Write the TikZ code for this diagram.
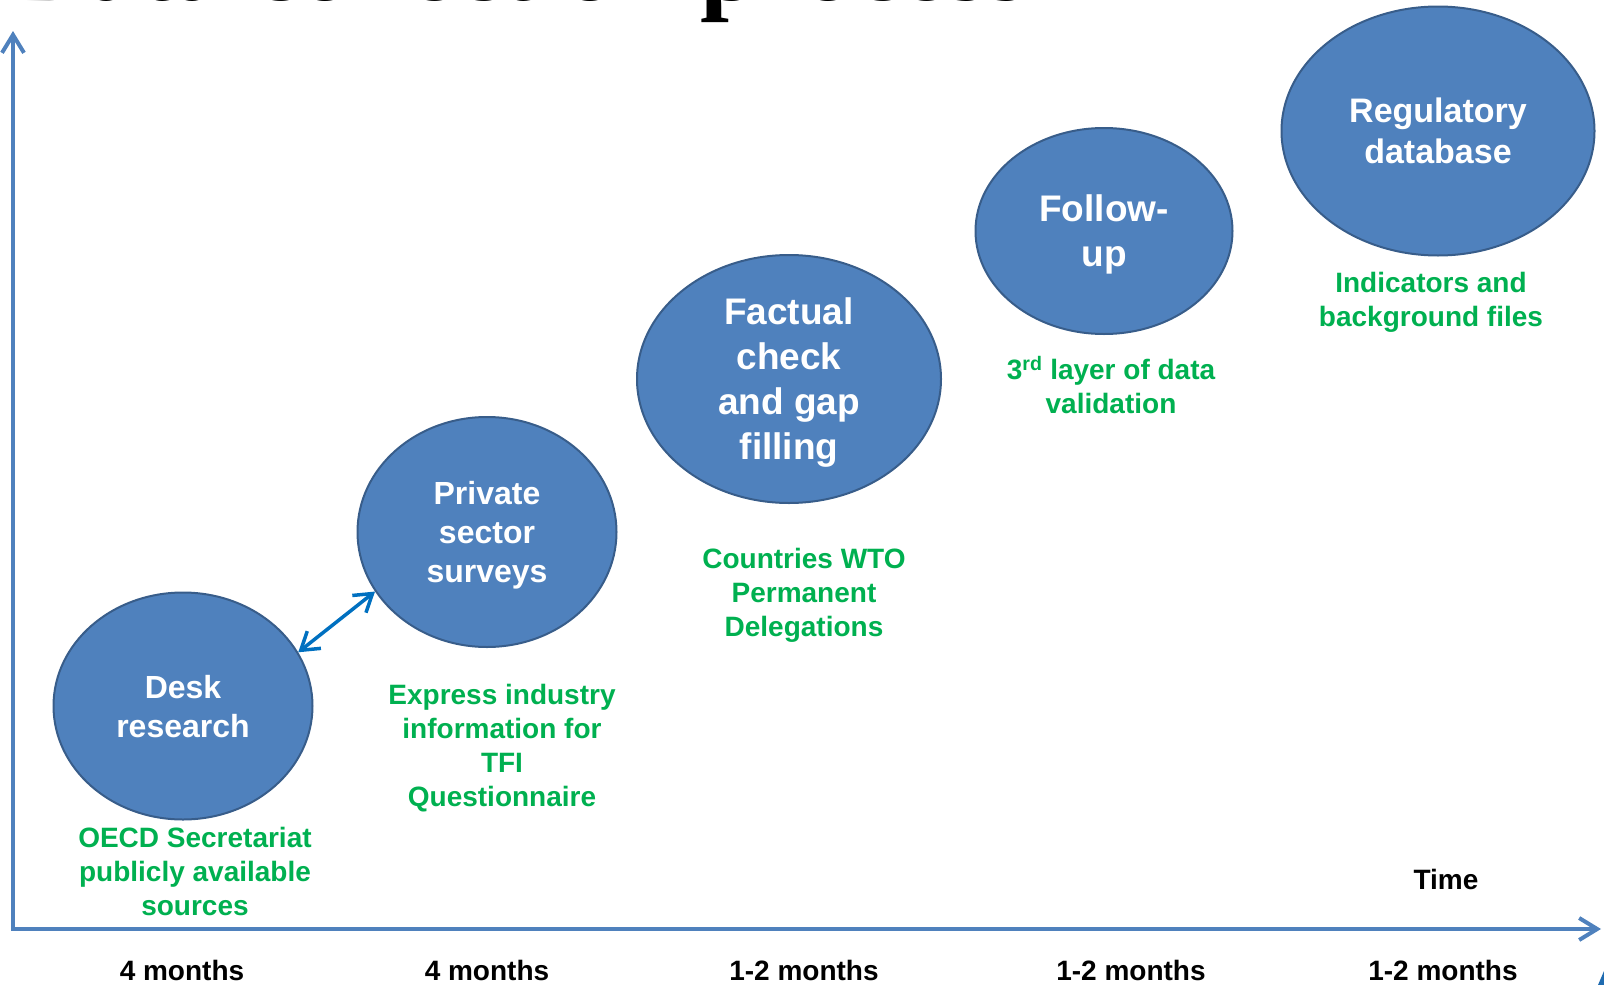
\documentclass[tikz,border=0pt]{standalone}
\usepackage{fontspec}
\setmainfont{Liberation Sans}
\newfontfamily\titlefont{Liberation Serif}
\usepackage{tikz}
\usetikzlibrary{arrows.meta,shapes.geometric,positioning}
\definecolor{stageblue}{HTML}{4F81BD}
\definecolor{stageedge}{HTML}{385D8A}
\definecolor{axisblue}{HTML}{4F81BD}
\definecolor{linkblue}{HTML}{0070C0}
\definecolor{notegreen}{HTML}{00B050}
\definecolor{cornerblue}{HTML}{1F6BB0}
\tikzset{
  stage/.style={
    ellipse,
    draw=stageedge,
    line width=2pt,
    fill=stageblue,
    text=white,
    align=center,
    inner sep=0pt,
    font=\bfseries\fontsize{32}{39}\selectfont
  },
  bigstage/.style={stage, font=\bfseries\fontsize{37}{45}\selectfont},
  note/.style={
    align=center,
    inner sep=0pt,
    text=notegreen,
    font=\bfseries\fontsize{28}{34}\selectfont
  },
  period/.style={
    inner sep=0pt,
    text=black,
    font=\bfseries\fontsize{28}{34}\selectfont
  },
  titlebar/.style={
    inner sep=0pt,
    font=\titlefont\bfseries\fontsize{104}{110}\selectfont
  },
  axis/.style={
    {Straight Barb[length=18pt,width=22pt]}-{Straight Barb[length=18pt,width=22pt]},
    draw=axisblue,
    line width=4pt
  },
  link/.style={
    {Straight Barb[length=17pt,width=22pt]}-{Straight Barb[length=17pt,width=22pt]},
    draw=linkblue,
    line width=3.5pt
  }
}
\begin{document}
\begin{tikzpicture}[x=1pt, y=-1pt]
\useasboundingbox (0,0) rectangle (1604,985);
\clip (0,0) rectangle (1604,985);

% Title, cut off by the top edge.
\node[titlebar, anchor=base west] (title) at (13,1) {Data collection process};

% Axes: effort upwards, time to the right.
\coordinate (origin) at (13,929);
\coordinate (ytop) at (13,31);
\coordinate (xend) at (1601,929);
\draw[axis] (ytop) -- (origin) -- (xend);
\node[period] (time) at (1446,879) {Time};

% Stages climbing to the right.
\node[stage, minimum width=259pt, minimum height=227pt, text depth=-2pt]
  (desk) at (183,706) {Desk\\research};
\node[stage, minimum width=259pt, minimum height=230pt, text depth=-3.3pt]
  (private) at (487,532) {Private\\sector\\surveys};
\node[bigstage, minimum width=304pt, minimum height=248pt, text depth=-4.2pt]
  (factual) at (789,379) {Factual\\check\\and gap\\filling};
\node[bigstage, minimum width=257pt, minimum height=206pt, text depth=-0.2pt]
  (followup) at (1104,231) {Follow-\\up};
\node[stage, minimum width=313pt, minimum height=249pt, text depth=-4pt,
  font=\bfseries\fontsize{34}{41}\selectfont]
  (regdb) at (1438,131) {Regulatory\\database};

\draw[link] (desk.25) -- (private.208);

% Sources under each stage.
\node[note] (desknote) at (195,871) {OECD Secretariat\\publicly available\\sources};
\node[note] (privatenote) at (502,748) {Express industry\\information for\\TFI\\Questionnaire};
\node[note] (factualnote) at (804,595) {Countries WTO\\Permanent\\Delegations};
\node[note] (followupnote) at (1111,385) {3\textsuperscript{rd} layer of data\\validation};
\node[note] (regdbnote) at (1431,302) {Indicators and\\background files};

% Durations under the time axis.
\node[period] (desktime) at (182,970) {4 months};
\node[period] (privatetime) at (487,970) {4 months};
\node[period] (factualtime) at (804,970) {1-2 months};
\node[period] (followuptime) at (1131,970) {1-2 months};
\node[period] (regdbtime) at (1443,970) {1-2 months};

% Corner of the slide decoration.
\fill[cornerblue] (1598,985) -- (1604,971) -- (1604,985) -- cycle;

\end{tikzpicture}
\end{document}
